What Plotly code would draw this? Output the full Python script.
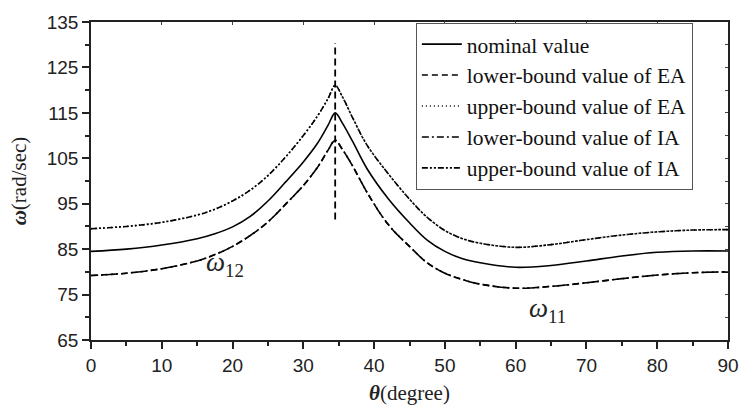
import plotly.graph_objects as go

theta = [0, 5, 10, 15, 17.5, 20, 22.5, 25, 27.5, 30, 32, 33.5, 34.5, 35.5, 37, 39, 42, 45, 47.5, 50, 52.5, 55, 60, 65, 70, 75, 80, 85, 90]
nominal = [84.5, 85.0, 85.9, 87.3, 88.4, 89.9, 92.2, 95.6, 99.8, 104.2, 108.3, 112.3, 115.0, 112.8, 108.6, 102.7, 96.1, 90.8, 87.0, 84.5, 82.9, 82.0, 81.0, 81.4, 82.4, 83.5, 84.3, 84.6, 84.6]
upper_ia = [89.5, 90.0, 90.9, 92.5, 93.8, 95.6, 98.0, 101.2, 105.3, 110.0, 114.3, 118.2, 121.0, 118.6, 113.8, 107.9, 101.6, 96.0, 92.0, 89.1, 87.3, 86.3, 85.4, 86.0, 87.1, 88.1, 88.8, 89.2, 89.3]
upper_ea = [89.5, 90.0, 90.9, 92.5, 93.8, 95.6, 98.0, 101.2, 105.3, 110.0, 114.3, 118.2, 121.1, 118.6, 113.8, 107.9, 101.6, 96.0, 92.0, 89.1, 87.3, 86.3, 85.4, 86.0, 87.1, 88.1, 88.8, 89.2, 89.3]
lower_ia = [79.2, 79.7, 80.7, 82.4, 83.8, 85.6, 88.0, 91.0, 94.9, 99.0, 103.0, 106.8, 109.0, 107.0, 103.2, 97.5, 90.4, 85.6, 82.0, 79.7, 78.3, 77.3, 76.4, 76.8, 77.6, 78.5, 79.3, 79.8, 80.0]
lower_ea = [79.2, 79.7, 80.7, 82.4, 83.8, 85.6, 88.0, 91.0, 94.9, 99.0, 103.0, 106.8, 108.9, 107.0, 103.2, 97.5, 90.4, 85.6, 82.0, 79.7, 78.3, 77.3, 76.4, 76.8, 77.6, 78.5, 79.3, 79.8, 80.0]
vline_x = [34.5, 34.5]
vline_y = [91.5, 130.4]

series = [
    ("nominal value", nominal, "solid"),
    ("lower-bound value of EA", lower_ea, "6px,4px"),
    ("upper-bound value of EA", upper_ea, "1px,3px"),
    ("lower-bound value of IA", lower_ia, "7px,3px,2px,3px"),
    ("upper-bound value of IA", upper_ia, "6px,2px,2px,2px,2px,2px"),
]

SERIF = "Liberation Serif, Times New Roman, Times, serif"
SANS = "Liberation Sans, Arial, Helvetica, sans-serif"

fig = go.Figure()
for name, vals, dash in series:
    fig.add_trace(go.Scatter(x=theta, y=vals, mode="lines", name=name,
                             line=dict(color="black", width=1.6, dash=dash, shape="spline", smoothing=1.0)))
fig.add_trace(go.Scatter(x=vline_x, y=vline_y, mode="lines", showlegend=False,
                         line=dict(color="black", width=1.8, dash="7px,4px")))
fig.add_trace(go.Scatter(x=[0], y=[65], xaxis="x2", yaxis="y2", mode="markers",
                         marker=dict(opacity=0), showlegend=False, hoverinfo="skip"))

axis_common = dict(showgrid=False, zeroline=False, showline=True, linecolor="#222", linewidth=1.5,
                   ticks="outside", tickwidth=1.5, tickcolor="#222", ticklen=7,
                   tickfont=dict(family=SANS, size=19, color="#222"))

fig.update_layout(
    width=751, height=413,
    margin=dict(l=91, r=12, t=14, b=71),
    plot_bgcolor="white", paper_bgcolor="white",
    font=dict(family=SERIF),
    xaxis=dict(range=[0, 90], tickvals=[0, 10, 20, 30, 40, 50, 60, 70, 80, 90],
               minor=dict(dtick=5, tick0=0, ticks="outside", ticklen=4, tickwidth=1.5, tickcolor="#222"),
               title=dict(text="<b><i>θ</i></b>(degree)", font=dict(family=SERIF, size=21, color="#222"), standoff=11),
               **axis_common),
    yaxis=dict(range=[65, 135], tickvals=[65, 75, 85, 95, 105, 115, 125, 135],
               minor=dict(dtick=5, tick0=65, ticks="outside", ticklen=4, tickwidth=1.5, tickcolor="#222"),
               title=dict(text="<b><i>ω</i></b>(rad/sec)", font=dict(family=SERIF, size=21, color="#222"), standoff=14),
               **axis_common),
    xaxis2=dict(overlaying="x", side="top", range=[0, 90], tickvals=[0, 10, 20, 30, 40, 50, 60, 70, 80, 90],
                showticklabels=False, showgrid=False, zeroline=False, showline=True, linecolor="#222", linewidth=1.5,
                ticks="inside", ticklen=3, tickwidth=1, tickcolor="#444"),
    yaxis2=dict(overlaying="y", side="right", range=[65, 135], tickvals=[65, 70, 75, 80, 85, 90, 95, 100, 105, 110, 115, 120, 125, 130, 135],
                showticklabels=False, showgrid=False, zeroline=False, showline=True, linecolor="#222", linewidth=1.5,
                ticks="inside", ticklen=3, tickwidth=1, tickcolor="#444"),
    legend=dict(x=0.51, y=0.998, xanchor="left", yanchor="top",
                bgcolor="white", bordercolor="#555", borderwidth=1,
                font=dict(family=SERIF, size=21.5, color="#111"),
                tracegroupgap=0, itemwidth=40),
    showlegend=True,
)

fig.add_annotation(x=19, y=81.7, xref="x", yref="y", showarrow=False,
                   text="<i>ω</i><sub>12</sub>", font=dict(family=SERIF, size=27, color="#222"))
fig.add_annotation(x=64.5, y=71.5, xref="x", yref="y", showarrow=False,
                   text="<i>ω</i><sub>11</sub>", font=dict(family=SERIF, size=27, color="#222"))

fig.write_html("out.html")
